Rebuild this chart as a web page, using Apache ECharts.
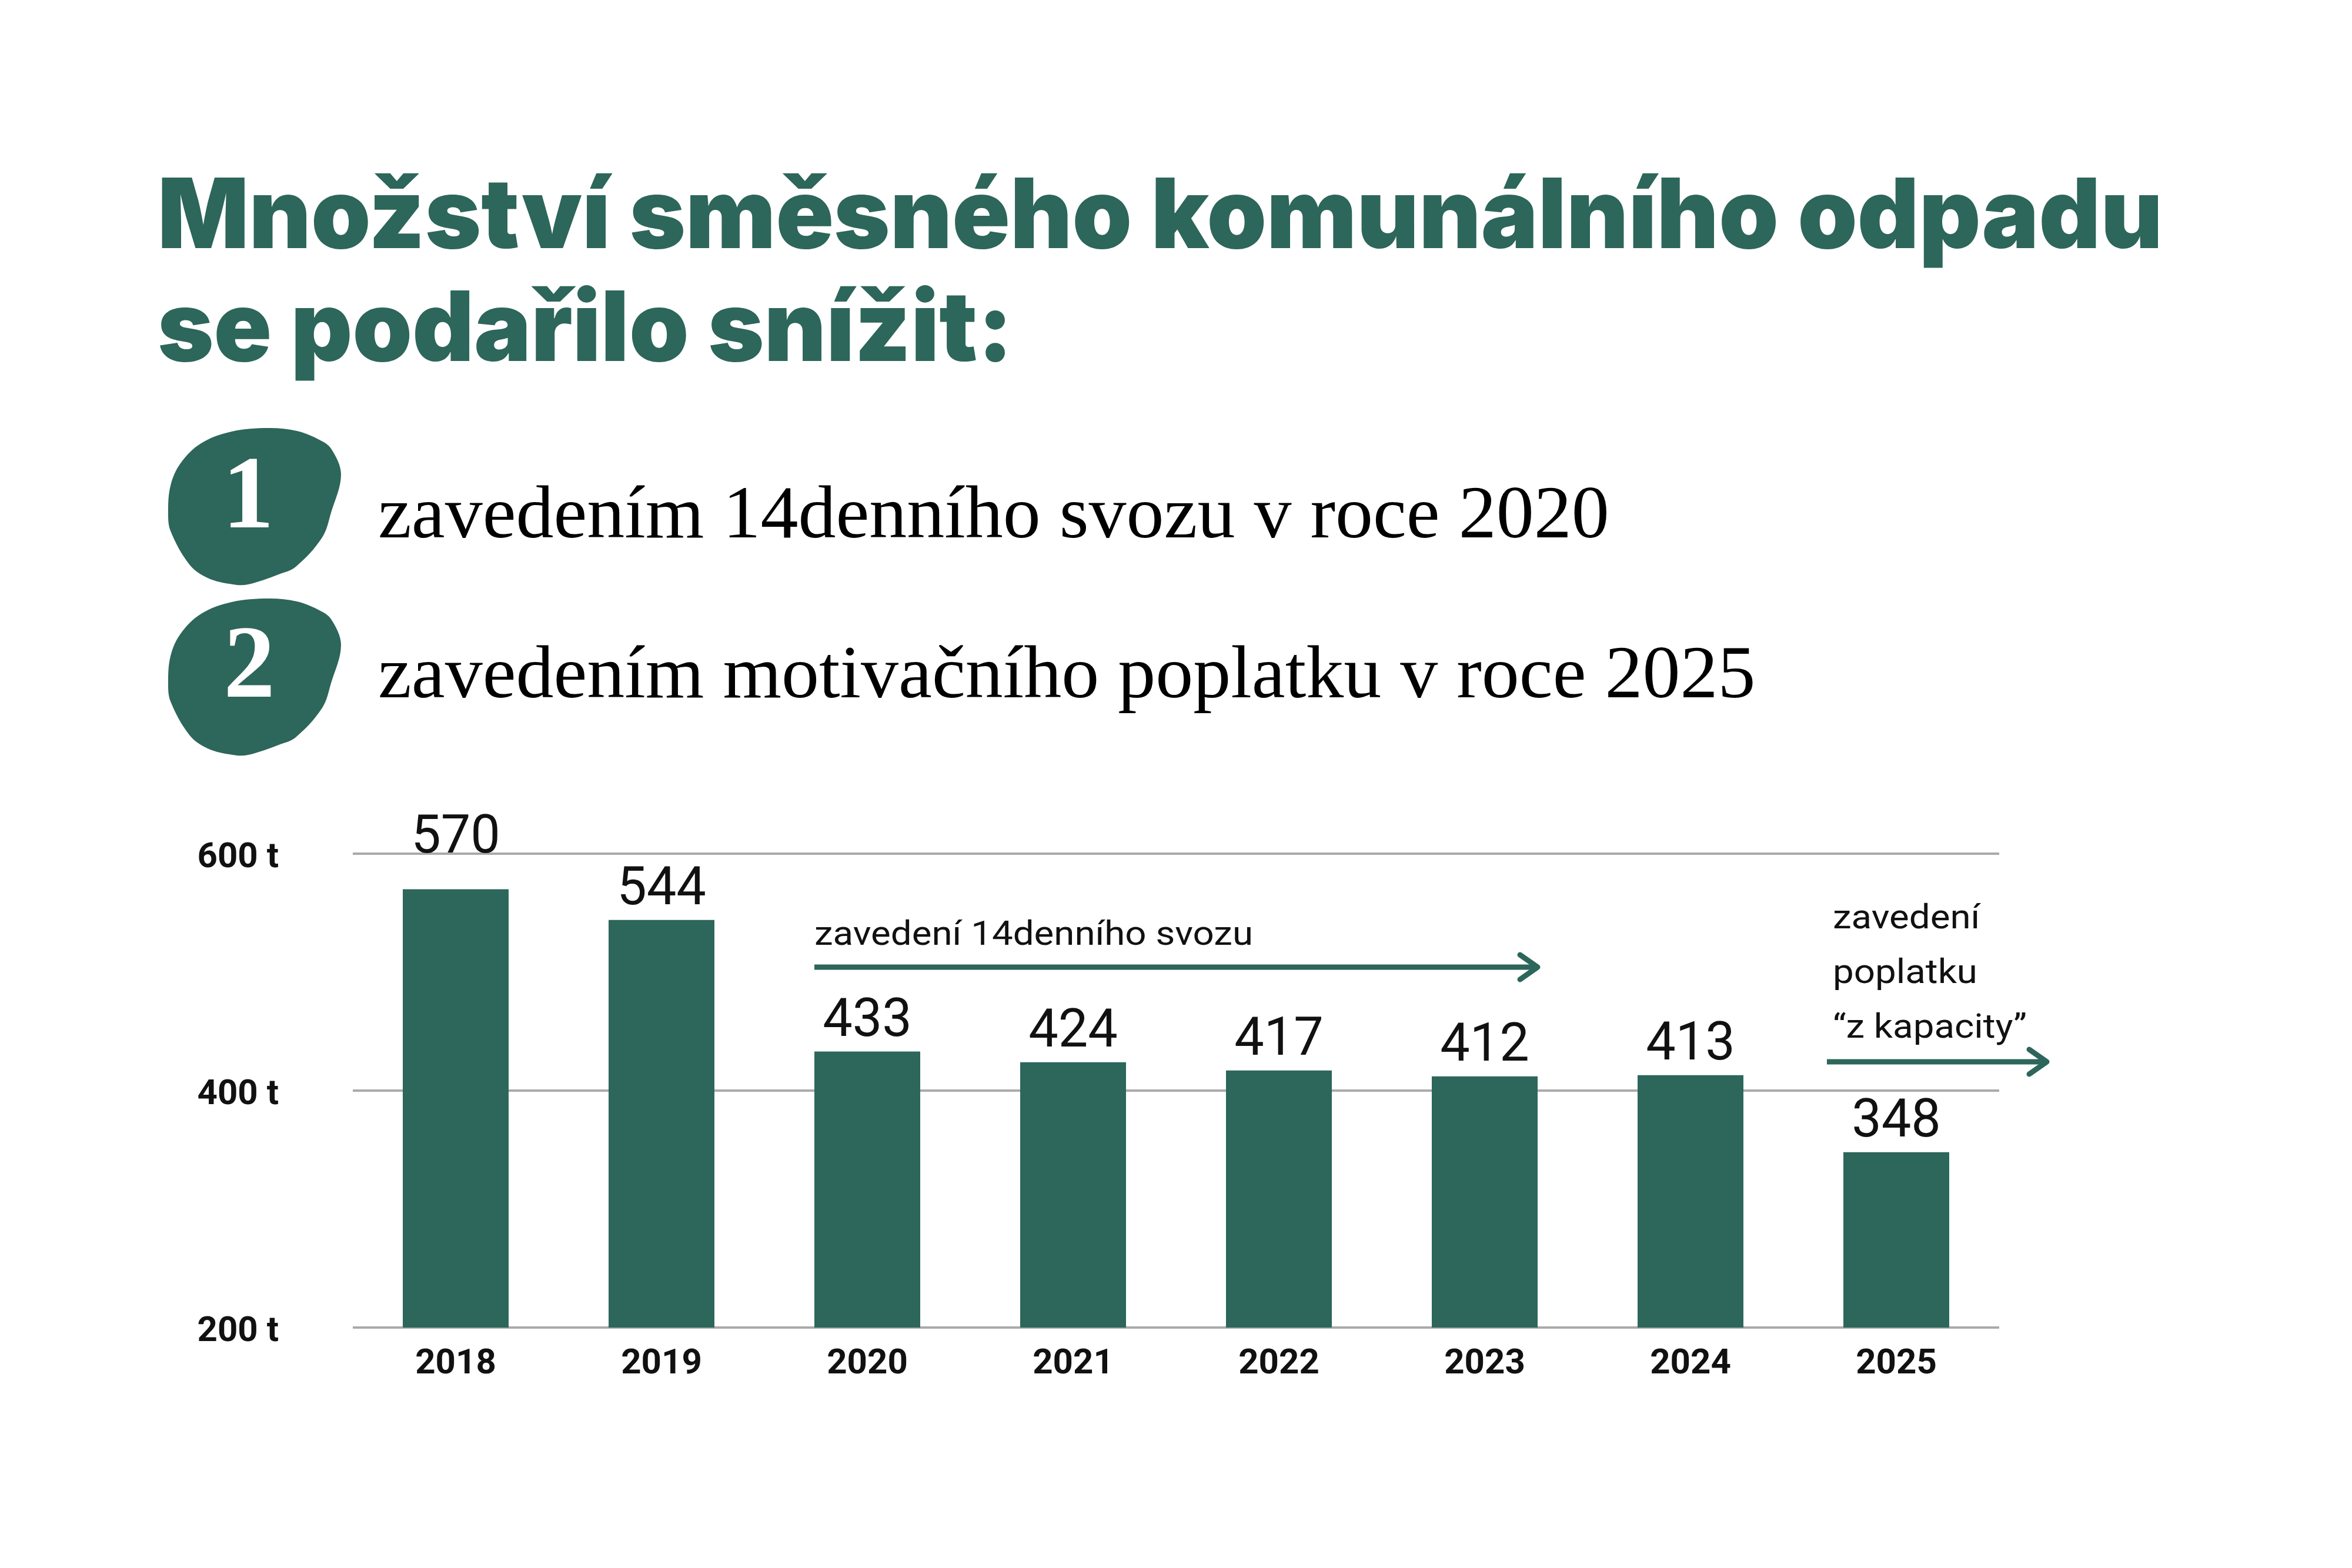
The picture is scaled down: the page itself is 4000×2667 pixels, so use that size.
<!DOCTYPE html>
<html>
<head>
<meta charset="utf-8">
<script src="https://cdn.jsdelivr.net/npm/echarts@6/dist/echarts.min.js"></script>
<style>
  html, body { margin: 0; padding: 0; background: #ffffff; }
  #chart { width: 4000px; height: 2667px; }
</style>
</head>
<body>
<div id="chart"></div>
<script>
// data
const years = ['2018', '2019', '2020', '2021', '2022', '2023', '2024', '2025'];
const tonnes = [570, 544, 433, 424, 417, 412, 413, 348];
const yTicks = [200, 400, 600];
const titleLines = ['Množství směsného komunálního odpadu', 'se podařilo snížit:'];
const steps = ['zavedením 14denního svozu v roce 2020', 'zavedením motivačního poplatku v roce 2025'];
const noteCollection = 'zavedení 14denního svozu';
const noteFee = ['zavedení', 'poplatku', '“z kapacity”'];

const green = '#2d665a';
const grey = '#aaaaaa';

const element = document.getElementById('chart');
const chart = echarts.init(element);

// horizontal squeeze/stretch so a text fills the width it has in the picture
const measureCtx = document.createElement('canvas').getContext('2d');
function fitScale(text, font, targetWidth) {
    measureCtx.font = font;
    return targetWidth / measureCtx.measureText(text).width;
}

// irregular blob behind the step numbers (offsets from its centre)
const blobPoints = [
    [21, -135], [69, -130], [107, -115], [127, -100], [144, -56], [127, 9],
    [112, 51], [67, 101], [38, 114], [-14, 131], [-40, 131], [-83, 120],
    [-114, 97], [-146, 40], [-150, 9], [-146, -37], [-129, -75], [-94, -109], [-42, -129]
];

function blob(cx, cy) {
    return {
        type: 'polygon',
        shape: { points: blobPoints.map(p => [cx + p[0], cy + p[1]]), smooth: 0.35 },
        style: { fill: green }
    };
}

function arrow(x1, x2, y) {
    return [
        { type: 'line', shape: { x1: x1, y1: y, x2: x2, y2: y },
          style: { stroke: green, lineWidth: 9, lineCap: 'butt' } },
        { type: 'polyline', shape: { points: [[x2 - 30, y - 21], [x2, y], [x2 - 30, y + 21]] },
          style: { stroke: green, lineWidth: 9, lineCap: 'round', lineJoin: 'round', fill: null } }
    ];
}

const option = {
    backgroundColor: '#ffffff',
    animation: false,
    grid: { left: 600, right: 600, top: 1452, bottom: 409 },
    xAxis: {
        type: 'category',
        data: years,
        axisLine: { show: false },
        axisTick: { show: false },
        axisLabel: {
            margin: 33,
            fontFamily: 'Roboto',
            fontWeight: 700,
            fontSize: 60,
            color: '#111111'
        }
    },
    yAxis: {
        type: 'value',
        min: yTicks[0],
        max: yTicks[yTicks.length - 1],
        interval: yTicks[1] - yTicks[0],
        axisLine: { show: false },
        axisTick: { show: false },
        splitLine: { lineStyle: { color: grey, width: 4 } },
        axisLabel: {
            formatter: '{value} t',
            margin: 126,
            // labels sit a little below their grid line
            verticalAlign: 'top',
            lineHeight: 16,
            fontFamily: 'Roboto',
            fontWeight: 700,
            fontSize: 60,
            color: '#111111'
        }
    },
    series: [
        {
            type: 'bar',
            barWidth: 180,
            itemStyle: { color: green },
            label: {
                show: true,
                position: 'top',
                distance: 4,
                fontFamily: 'Roboto',
                fontSize: 90,
                color: '#111111'
            },
            // the first label sits higher, above the 600 t line
            data: tonnes.map((v, i) => i === 0 ? { value: v, label: { distance: 40 } } : v)
        }
    ]
};

chart.setOption(option);

// annotation arrows follow the bars they refer to
const cx = i => chart.convertToPixel({ xAxisIndex: 0 }, years[i]);
const half = 90;
const x2020 = cx(years.indexOf('2020')) - half;
const x2023 = cx(years.indexOf('2023')) + half;
const x2025 = cx(years.indexOf('2025'));

const titleFont = { family: 'Inter', weight: 900, size: 165 };
const titleScale = fitScale(titleLines[0], titleFont.weight + ' ' + titleFont.size + 'px ' + titleFont.family, 3410);
const titleStyle = { fill: green, fontFamily: titleFont.family, fontWeight: titleFont.weight,
                     fontSize: titleFont.size, verticalAlign: 'middle' };

const stepStyle = { fill: '#000000', fontFamily: 'Liberation Serif', fontSize: 128, verticalAlign: 'middle' };
const numStyle = { fill: '#ffffff', fontFamily: 'Liberation Serif', fontWeight: 700, fontSize: 175,
                   align: 'center', verticalAlign: 'middle' };

const noteScale = fitScale(noteCollection, '400 58px Roboto', 746);
const noteStyle = { fill: '#111111', fontFamily: 'Roboto', fontSize: 58, verticalAlign: 'middle' };

const graphics = [
    { type: 'text', x: 268, y: 372, scaleX: titleScale, style: Object.assign({ text: titleLines[0] }, titleStyle) },
    { type: 'text', x: 268, y: 564, scaleX: titleScale, style: Object.assign({ text: titleLines[1] }, titleStyle) },
    blob(436, 863),
    blob(436, 1153),
    { type: 'text', x: 422, y: 852, style: Object.assign({ text: '1' }, numStyle) },
    { type: 'text', x: 424, y: 1140, style: Object.assign({ text: '2' }, numStyle) },
    { type: 'text', x: 643, y: 880, style: Object.assign({ text: steps[0] }, stepStyle) },
    { type: 'text', x: 643, y: 1152, style: Object.assign({ text: steps[1] }, stepStyle) },
    { type: 'text', x: x2020, y: 1592, scaleX: noteScale, style: Object.assign({ text: noteCollection }, noteStyle) },
    ...arrow(x2020, x2023, 1645),
    ...noteFee.map((t, i) => ({ type: 'text', x: x2025 - 108, y: 1564 + i * 93, scaleX: noteScale,
                                style: Object.assign({ text: t }, noteStyle) })),
    ...arrow(x2025 - 118, x2025 + 256, 1806)
];

chart.setOption({ graphic: graphics });
window.addEventListener('resize', chart.resize);
</script>
</body>
</html>
